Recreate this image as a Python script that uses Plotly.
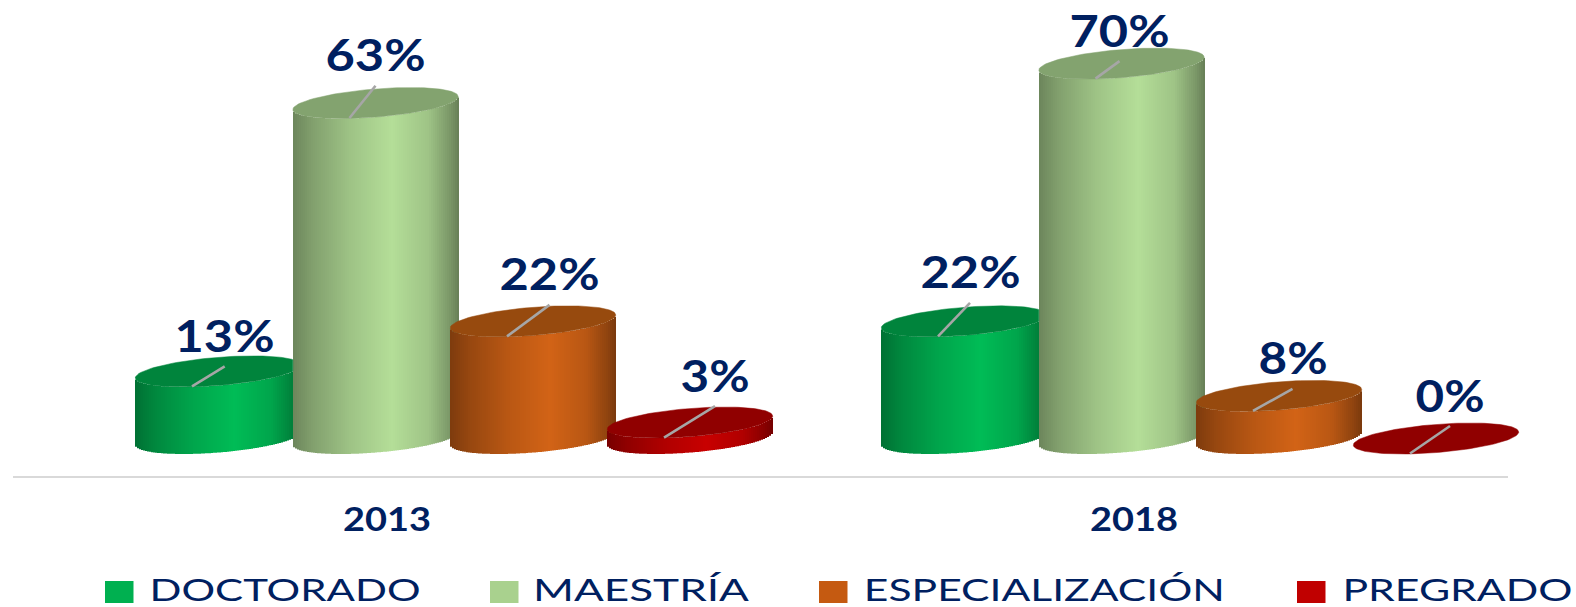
import json
import numpy as np
import plotly.graph_objects as go

years = ["2013", "2018"]
series = ["DOCTORADO", "MAESTRÍA", "ESPECIALIZACIÓN", "PREGRADO"]
values_2013 = [12.6, 63, 22, 3]
values_2018 = [22, 70.4, 8, 0]
side_colors = ["#00BC56", "#B4DE98", "#D26316", "#C80000"]
top_colors = ["#00843C", "#83A36F", "#974A0E", "#900000"]
legend_colors = ["#00B050", "#A9D18E", "#C55A11", "#C00000"]

NAVY = "#002060"
W, H = 1576, 607
PX_PER_UNIT = 5.325
ZERO_PX = 438.5
A, K, B = 82.7, 6.5, 14.07     # ellipse half-width, tilt, half-height (px)
group_centers = [454, 1200]
tick_pos = [387, 1134]
bar_offsets = [-236, -78.5, 79, 236]
leader_end_dx = [[6.7, 0, 16.5, 25], [6, -2, 13.5, 14]]
leader_end_dy = [[-5, -17.3, -16.5, -16.5], [-18.5, -2.5, -7, -12.5]]
legend_swatch_x = [105, 490, 819, 1297]
legend_text_x = [149, 533, 864, 1342]
legend_text_w = [271, 216, 361, 230]


def y_of_px(p):
    return (ZERO_PX - p) / PX_PER_UNIT


def shade(hex_color, f):
    r, g, b = (int(hex_color[i:i + 2], 16) for i in (1, 3, 5))
    return f"rgb({r * f:.0f},{g * f:.0f},{b * f:.0f})"


def gradient(u):
    return float(np.interp(u, [0, 0.12, 0.35, 0.6, 0.82, 0.95, 1], [0.6, 0.72, 0.88, 1, 0.88, 0.68, 0.58]))


fig = go.Figure()
all_values = [values_2013, values_2018]

# cylinder bodies: one bar trace per series, made of thin vertical strips
for s, name in enumerate(series):
    xs, hs, bases, cols = [], [], [], []
    for g in range(2):
        cx = group_centers[g] + bar_offsets[s]
        v = all_values[g][s]
        if v <= 0:
            continue
        left = round(cx - A)
        for i in range(int(round(2 * A / 2))):
            xc = left + 2 * i + 1
            c = np.clip((xc - cx) / A, -1, 1)
            low = (-B * np.sqrt(1 - c * c) + K * c) / PX_PER_UNIT
            xs.append(xc)
            hs.append(v)
            bases.append(low)
            cols.append(shade(side_colors[s], gradient((c + 1) / 2)))
    fig.add_trace(go.Bar(x=xs, y=hs, base=bases, width=2, name=name,
                         marker=dict(color=cols, line=dict(width=0)),
                         hoverinfo="skip", showlegend=False, cliponaxis=False))

# top ellipses
t = np.linspace(0, 2 * np.pi, 121)
for g in range(2):
    for s, name in enumerate(series):
        cx = group_centers[g] + bar_offsets[s]
        v = all_values[g][s]
        ex = cx + A * np.cos(t)
        ey = v + (B * np.sin(t) + K * np.cos(t)) / PX_PER_UNIT
        if s + 1 < 4 and all_values[g][s + 1] > v:   # next, taller cylinder hides the edge
            ex = np.minimum(ex, group_centers[g] + bar_offsets[s + 1] - A)
        fig.add_trace(go.Scatter(x=ex, y=ey, mode="lines", fill="toself",
                                 fillcolor=top_colors[s], line=dict(color=top_colors[s], width=0.5),
                                 hoverinfo="skip", showlegend=False, cliponaxis=False))

# leader lines and value labels
annotations = []
stretch = {}
for g in range(2):
    for s in range(4):
        cx = group_centers[g] + bar_offsets[s]
        v = all_values[g][s]
        ex = cx + leader_end_dx[g][s]
        ey = v - leader_end_dy[g][s] / PX_PER_UNIT
        fig.add_trace(go.Scatter(x=[cx - 26, ex], y=[v - 15 / PX_PER_UNIT, ey], mode="lines",
                                 line=dict(color="#A6A6A6", width=2.6),
                                 hoverinfo="skip", showlegend=False))
        label = f"{v:.0f}%"
        stretch[label] = 100 if len(label) == 3 else 69
        annotations.append(dict(x=ex, y=ey, xref="x", yref="y", yshift=31, showarrow=False,
                                text=label, xanchor="center", yanchor="middle",
                                font=dict(family="Lato", size=43, color=NAVY, weight="bold")))

# legend
shapes = [dict(type="line", xref="x", yref="y", x0=13, x1=1508, y0=y_of_px(477), y1=y_of_px(477),
               line=dict(color="#D9D9D9", width=2), layer="below")]
for i, name in enumerate(series):
    shapes.append(dict(type="rect", xref="x", yref="y", x0=legend_swatch_x[i], x1=legend_swatch_x[i] + 28.5,
                       y0=y_of_px(581), y1=y_of_px(603), fillcolor=legend_colors[i], line=dict(width=0)))
    stretch[name] = legend_text_w[i]
    annotations.append(dict(x=legend_text_x[i] + legend_text_w[i] / 2, y=y_of_px(589), xref="x", yref="y",
                            showarrow=False, text=name, xanchor="center", yanchor="middle",
                            font=dict(family="Lato", size=31, color=NAVY)))
for y in years:
    stretch[y] = 88

fig.update_layout(
    width=W, height=H, margin=dict(l=0, r=0, t=0, b=0),
    paper_bgcolor="white", plot_bgcolor="white", barmode="overlay",
    showlegend=False, shapes=shapes, annotations=annotations,
    xaxis=dict(range=[0, W], tickmode="array", tickvals=tick_pos, ticktext=years,
               showgrid=False, zeroline=False, showline=False, anchor="free",
               position=1 - 477 / H, ticks="outside", ticklen=15, tickcolor="rgba(0,0,0,0)",
               tickfont=dict(family="Lato", size=32, color=NAVY, weight="bold")),
    yaxis=dict(range=[y_of_px(H), y_of_px(0)], visible=False),
)

post = """
document.body.style.margin='0';
var STRETCH = %s;
function applyStretch() {
  document.querySelectorAll('.annotation-text, .xtick text').forEach(function (el) {
    var w = STRETCH[el.textContent];
    if (w) { el.setAttribute('textLength', w); el.setAttribute('lengthAdjust', 'spacingAndGlyphs'); }
  });
}
applyStretch();
setTimeout(applyStretch, 30);
""" % json.dumps(stretch, ensure_ascii=False)

fig.write_html("out.html", post_script=post, config={"displayModeBar": False})
